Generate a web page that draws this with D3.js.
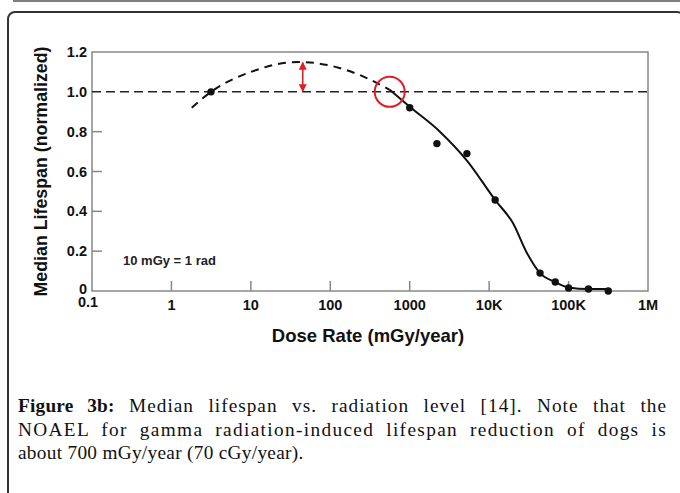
<!DOCTYPE html>
<html lang="en">
<head>
  <meta charset="UTF-8">
  <title>Median lifespan vs dose rate</title>
  <script src="https://d3js.org/d3.v7.min.js"></script>
  <style>
    body { margin: 0; background: #fff; }
    #wrap { position: relative; width: 680px; height: 493px; overflow: hidden; }
    svg { position: absolute; left: 0; top: 0; }
    .caption {
      position: absolute;
      left: 18px;
      top: 394px;
      width: 649px;
      font-family: "Liberation Serif", serif;
      font-size: 19.3px;
      line-height: 23.5px;
      color: #111;
    }
    .caption div { text-align: justify; text-align-last: justify; white-space: nowrap; }
    .caption div.l1 { letter-spacing: 1.0px; }
    .caption div.l2 { letter-spacing: 1.35px; }
    .caption div.last { text-align: left; text-align-last: left; letter-spacing: 0.3px; }
    .caption b { font-weight: bold; letter-spacing: 0.2px; }
  </style>
</head>
<body>
  <div id="wrap">
    <svg width="680" height="493"></svg>
    <div class="caption"></div>
  </div>

  <script>
    // dose rate (mGy/year) and normalized median lifespan
    const doseDots = [3.15, 1000, 2200, 5250, 11900, 43700, 68000, 100000, 178000, 316000];
    const lifeDots = [1.0, 0.92, 0.74, 0.69, 0.457, 0.09, 0.045, 0.015, 0.01, 0.0];

    // hypothesised hormetic part (dashed)
    const doseDashed = [1.8, 3.15, 10, 40, 130, 250, 560];
    const lifeDashed = [0.92, 1.0, 1.10, 1.15, 1.12, 1.08, 1.01];

    // fitted curve (solid)
    const doseSolid = [560, 1000, 2400, 5250, 11900, 20000, 30000, 43700, 68000, 100000, 178000, 316000];
    const lifeSolid = [1.01, 0.925, 0.80, 0.655, 0.457, 0.34, 0.19, 0.09, 0.045, 0.018, 0.01, 0.01];

    const xTicks = [0.1, 1, 10, 100, 1000, 10000, 100000, 1000000];
    const xTickLabels = ["0.1", "1", "10", "100", "1000", "10K", "100K", "1M"];
    const yTicks = [0, 0.2, 0.4, 0.6, 0.8, 1.0, 1.2];
    const yTickLabels = ["0", "0.2", "0.4", "0.6", "0.8", "1.0", "1.2"];

    const noaelDose = 560;
    const arrowDose = 45;

    const svg = d3.select("svg");

    // page frame
    svg.append("line")
      .attr("x1", 13).attr("x2", 680).attr("y1", 1).attr("y2", 1)
      .attr("stroke", "#555").attr("stroke-width", 1.5);
    svg.append("rect")
      .attr("x", 8).attr("y", 12).attr("width", 676).attr("height", 500)
      .attr("rx", 7)
      .attr("fill", "none").attr("stroke", "#333").attr("stroke-width", 2);

    const pl = 92, pr = 648, pt = 52, pb = 291;

    const x = d3.scaleLog().domain([0.1, 1e6]).range([pl, pr]);
    const y = d3.scaleLinear().domain([0, 1.2]).range([pb, pt]);

    const axisFont = "'Liberation Sans', Arial, sans-serif";

    // plot frame
    svg.append("rect")
      .attr("x", pl).attr("y", pt)
      .attr("width", pr - pl).attr("height", pb - pt)
      .attr("fill", "none").attr("stroke", "#888").attr("stroke-width", 1.5);

    // inward ticks
    svg.append("g")
      .selectAll("line")
      .data(yTicks.filter(d => d > 0 && d < 1))
      .join("line")
        .attr("x1", pl).attr("x2", pl + 10)
        .attr("y1", d => y(d)).attr("y2", d => y(d))
        .attr("stroke", "#888").attr("stroke-width", 1.5);

    svg.append("g")
      .selectAll("line")
      .data(xTicks.slice(1, -1))
      .join("line")
        .attr("x1", d => x(d)).attr("x2", d => x(d))
        .attr("y1", pb).attr("y2", pb - 10)
        .attr("stroke", "#888").attr("stroke-width", 1.5);

    // tick labels
    svg.append("g")
      .selectAll("text")
      .data(yTicks)
      .join("text")
        .attr("x", pl - 5)
        .attr("y", d => d === 0 ? y(d) + 2.5 : y(d) + 5)
        .attr("text-anchor", "end")
        .attr("font-family", axisFont)
        .attr("font-weight", "bold")
        .attr("font-size", 14.5)
        .attr("fill", "#111")
        .text((d, i) => yTickLabels[i]);

    svg.append("g")
      .selectAll("text")
      .data(xTicks)
      .join("text")
        .attr("x", (d, i) => x(d) - (i === 0 ? 4 : 0))
        .attr("y", (d, i) => pb + (i === 0 ? 15.5 : 19))
        .attr("text-anchor", "middle")
        .attr("font-family", axisFont)
        .attr("font-weight", "bold")
        .attr("font-size", 14.5)
        .attr("fill", "#111")
        .text((d, i) => xTickLabels[i]);

    // axis titles
    svg.append("text")
      .attr("transform", `translate(47,${(pt + pb) / 2}) rotate(-90)`)
      .attr("text-anchor", "middle")
      .attr("font-family", axisFont)
      .attr("font-weight", "bold")
      .attr("font-size", 17.8)
      .attr("fill", "#111")
      .text("Median Lifespan (normalized)");

    svg.append("text")
      .attr("x", 368).attr("y", 342)
      .attr("text-anchor", "middle")
      .attr("font-family", axisFont)
      .attr("font-weight", "bold")
      .attr("font-size", 18.5)
      .attr("fill", "#111")
      .text("Dose Rate (mGy/year)");

    svg.append("text")
      .attr("x", 123).attr("y", 264.5)
      .attr("font-family", axisFont)
      .attr("font-weight", "bold")
      .attr("font-size", 13)
      .attr("fill", "#222")
      .text("10 mGy = 1 rad");

    // reference line at 1.0
    svg.append("line")
      .attr("x1", pl).attr("x2", pr)
      .attr("y1", y(1)).attr("y2", y(1))
      .attr("stroke", "#222").attr("stroke-width", 1.5)
      .attr("stroke-dasharray", "9,5");

    const line = d3.line()
      .x(d => x(d[0]))
      .y(d => y(d[1]))
      .curve(d3.curveMonotoneX);

    svg.append("path")
      .datum(doseDashed.map((d, i) => [d, lifeDashed[i]]))
      .attr("d", line)
      .attr("fill", "none")
      .attr("stroke", "#111").attr("stroke-width", 2)
      .attr("stroke-dasharray", "8,6");

    svg.append("path")
      .datum(doseSolid.map((d, i) => [d, lifeSolid[i]]))
      .attr("d", line)
      .attr("fill", "none")
      .attr("stroke", "#111").attr("stroke-width", 2);

    svg.append("g")
      .selectAll("circle")
      .data(doseDots.map((d, i) => [d, lifeDots[i]]))
      .join("circle")
        .attr("cx", d => x(d[0]))
        .attr("cy", d => y(d[1]))
        .attr("r", 3.7)
        .attr("fill", "#111");

    // NOAEL marker
    svg.append("circle")
      .attr("cx", x(noaelDose)).attr("cy", y(1))
      .attr("r", 15)
      .attr("fill", "none")
      .attr("stroke", "#dc1f26").attr("stroke-width", 2);

    // double arrow for hormetic gain
    const defs = svg.append("defs");
    defs.append("marker")
      .attr("id", "ah")
      .attr("viewBox", "0 0 10 10")
      .attr("refX", 9).attr("refY", 5)
      .attr("markerWidth", 5).attr("markerHeight", 5)
      .attr("orient", "auto-start-reverse")
      .append("path")
        .attr("d", "M0,0 L10,5 L0,10 z")
        .attr("fill", "#dc1f26");

    svg.append("line")
      .attr("x1", x(arrowDose)).attr("x2", x(arrowDose))
      .attr("y1", y(1.15) + 0.5).attr("y2", y(1.0) - 0.5)
      .attr("stroke", "#dc1f26").attr("stroke-width", 1.6)
      .attr("marker-start", "url(#ah)")
      .attr("marker-end", "url(#ah)");

    // caption
    const cap = d3.select(".caption");
    const l1 = cap.append("div").attr("class", "l1");
    l1.append("b").text("Figure 3b:");
    l1.append("span").text(" Median lifespan vs. radiation level [14]. Note that the");
    cap.append("div").attr("class", "l2").text("NOAEL for gamma radiation-induced lifespan reduction of dogs is");
    cap.append("div").attr("class", "last").text("about 700 mGy/year (70 cGy/year).");
  </script>
</body>
</html>
